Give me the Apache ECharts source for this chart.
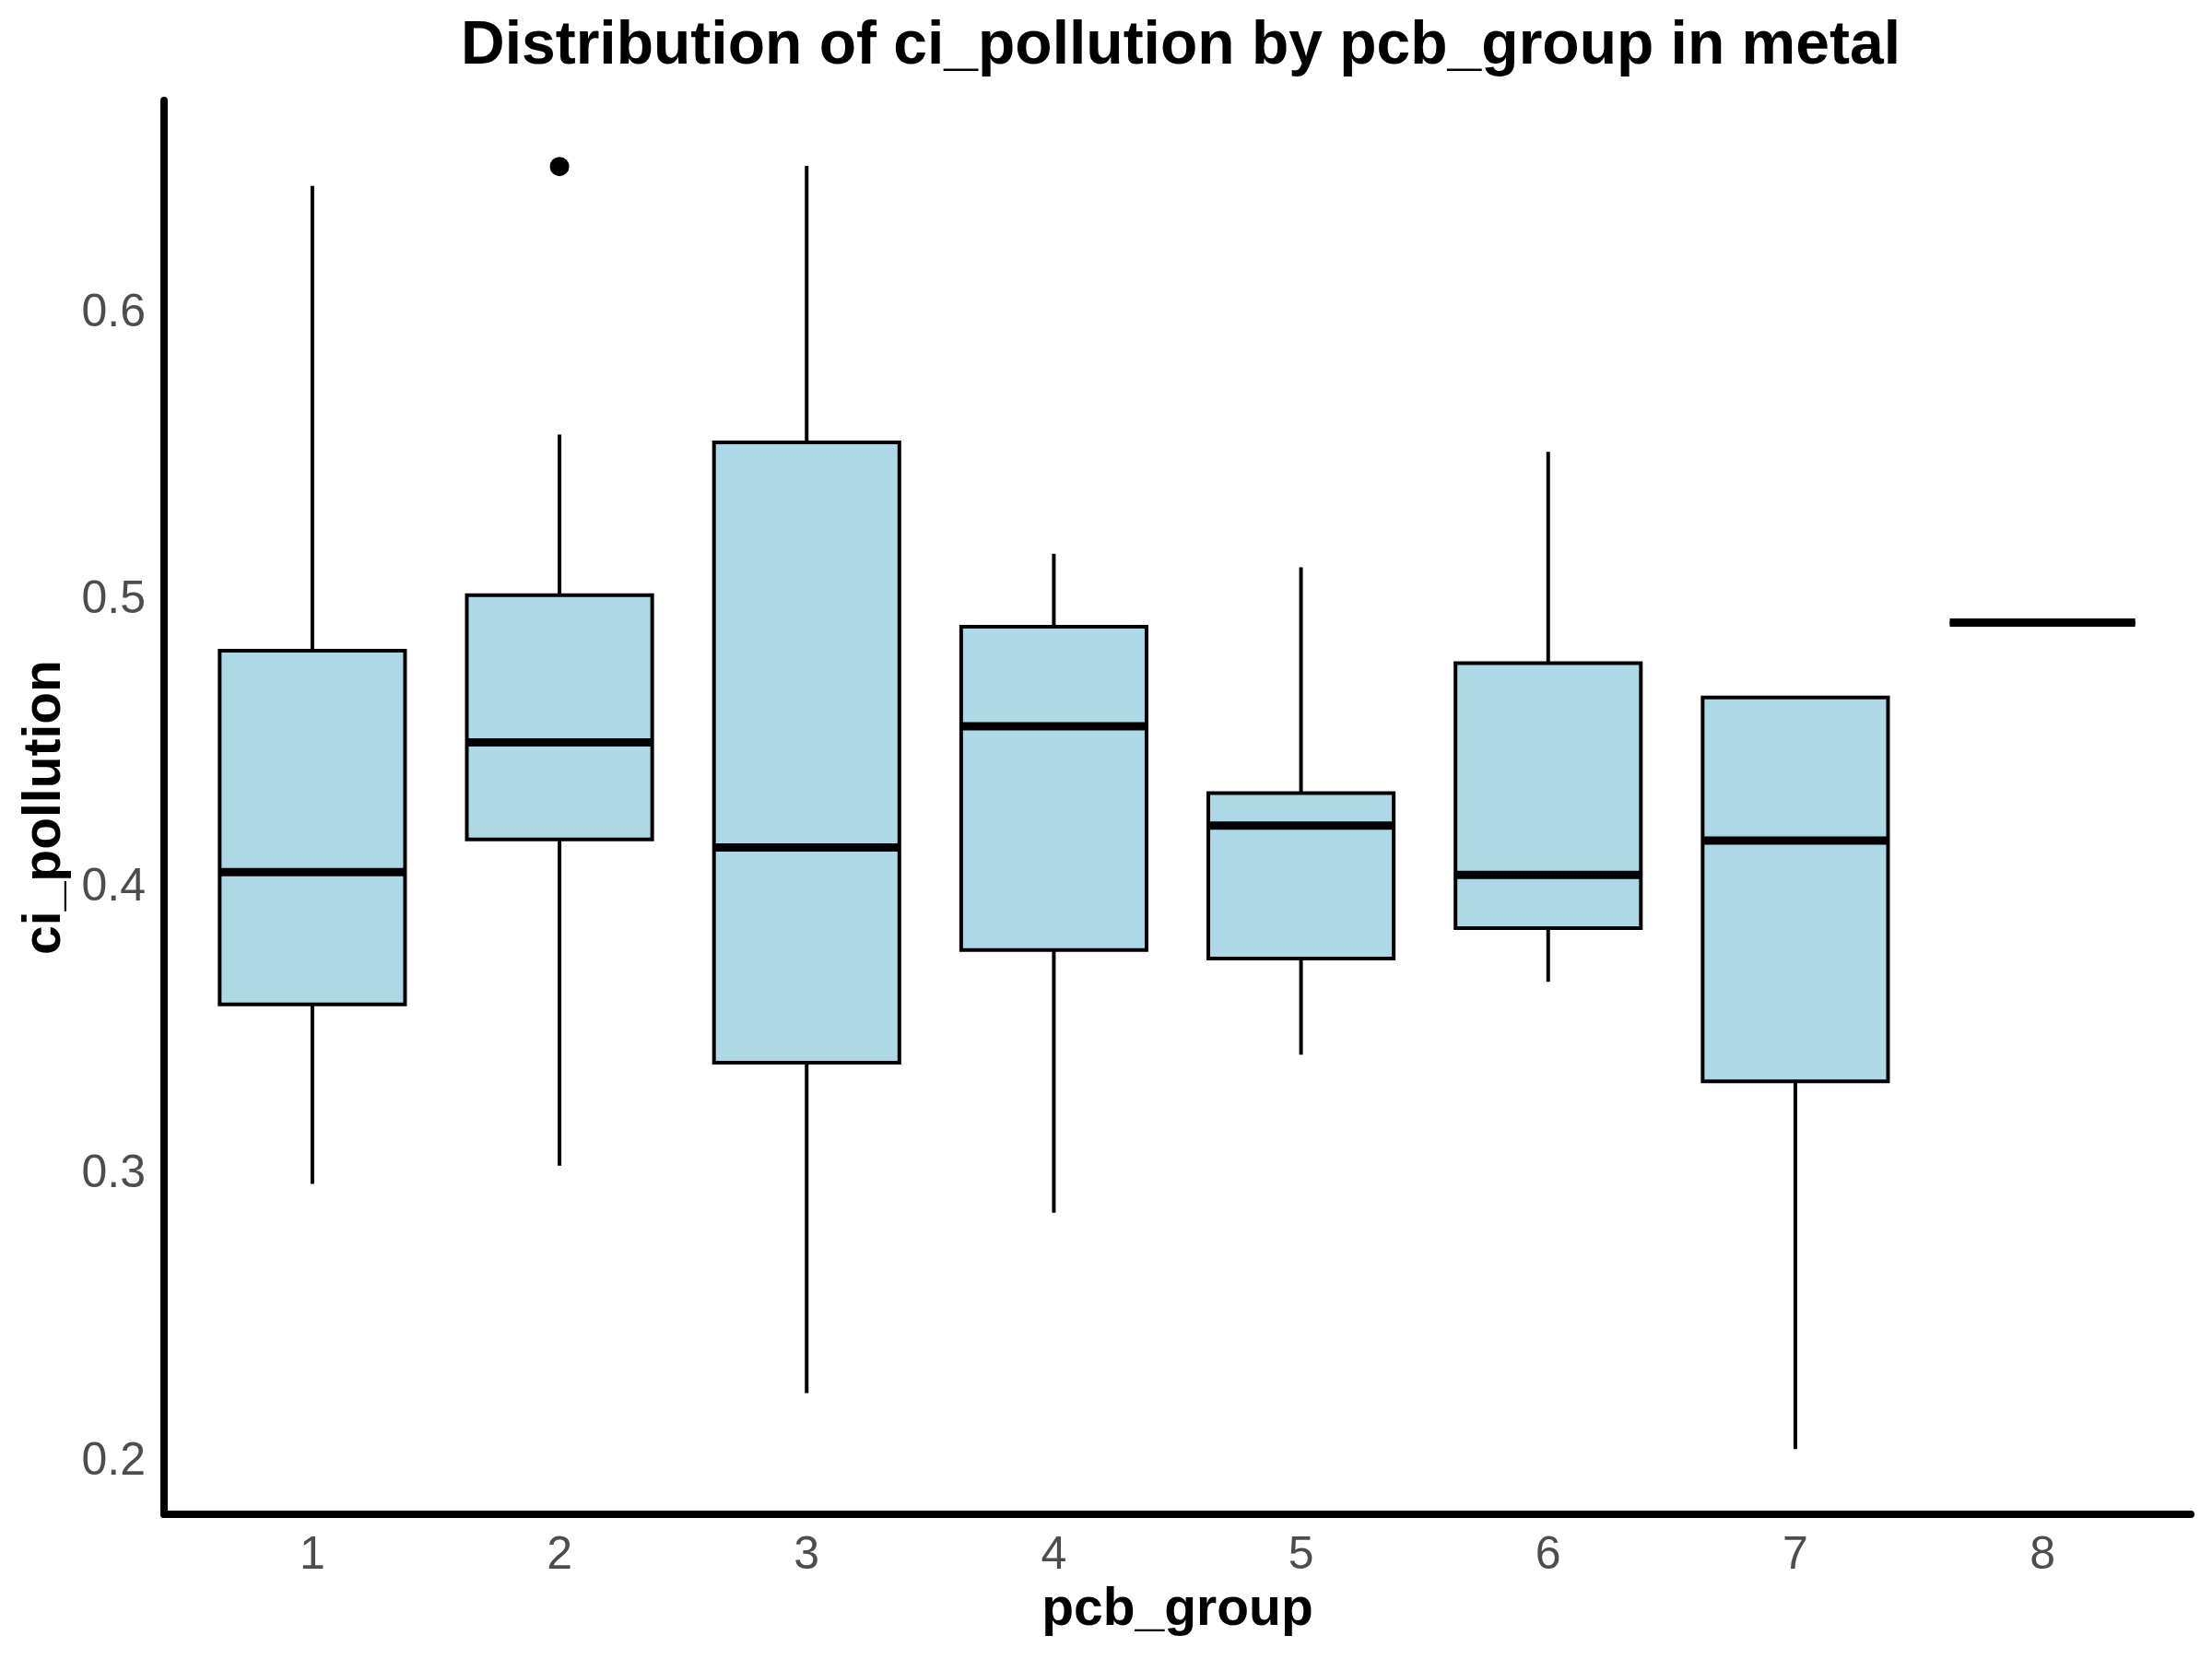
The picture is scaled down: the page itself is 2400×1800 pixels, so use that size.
<!DOCTYPE html>
<html lang="en">
<head>
  <meta charset="UTF-8" />
  <title>Distribution of ci_pollution by pcb_group in metal</title>
  <script src="https://cdn.jsdelivr.net/npm/echarts@6.0.0/dist/echarts.min.js"></script>
  <style>
    html, body { margin: 0; padding: 0; background: #fff; }
    #chart { width: 2400px; height: 1800px; }
  </style>
</head>
<body>
  <div id="chart"></div>
  <script>
    // box statistics per pcb_group
    const groups = [1, 2, 3, 4, 5, 6, 7, 8];
    const whiskerLow  = [0.2968, 0.3031, 0.2239, 0.2868, 0.3418, 0.3672, 0.2044, 0.4923];
    const q1          = [0.3593, 0.4168, 0.3390, 0.3783, 0.3753, 0.3859, 0.3325, 0.4923];
    const median      = [0.4054, 0.4506, 0.4140, 0.4562, 0.4216, 0.4044, 0.4164, 0.4923];
    const q3          = [0.4825, 0.5019, 0.5551, 0.4909, 0.4329, 0.4782, 0.4662, 0.4923];
    const whiskerHigh = [0.6444, 0.5578, 0.6514, 0.5163, 0.5116, 0.5518, 0.4662, 0.4923];

    // outliers
    const outlierGroup = [2];
    const outlierValue = [0.6512];

    const yTicks = [0.2, 0.3, 0.4, 0.5, 0.6];

    const boxData = groups.map((g, i) => [g, whiskerLow[i], q1[i], median[i], q3[i], whiskerHigh[i]]);
    const outlierData = outlierGroup.map((g, i) => [g, outlierValue[i]]);

    const FONT = 'Liberation Sans, Arial, Helvetica, sans-serif';
    const BOX_WIDTH = 0.75;

    function renderBox(params, api) {
      const x = api.value(0);
      const half = api.size([BOX_WIDTH, 0])[0] / 2;
      const pLow = api.coord([x, api.value(1)]);
      const pQ1 = api.coord([x, api.value(2)]);
      const pMed = api.coord([x, api.value(3)]);
      const pQ3 = api.coord([x, api.value(4)]);
      const pHigh = api.coord([x, api.value(5)]);
      const cx = pMed[0];
      const lineStyle = { stroke: '#000', lineWidth: 4 };
      return {
        type: 'group',
        children: [
          { type: 'line', shape: { x1: cx, y1: pLow[1], x2: cx, y2: pQ1[1] }, style: lineStyle },
          { type: 'line', shape: { x1: cx, y1: pQ3[1], x2: cx, y2: pHigh[1] }, style: lineStyle },
          {
            type: 'rect',
            shape: { x: cx - half, y: pQ3[1], width: half * 2, height: pQ1[1] - pQ3[1] },
            style: { fill: '#ADD8E6', stroke: '#000', lineWidth: 4 }
          },
          { type: 'line', shape: { x1: cx - half, y1: pMed[1], x2: cx + half, y2: pMed[1] }, style: { stroke: '#000', lineWidth: 9 } }
        ]
      };
    }

    const chart = echarts.init(document.getElementById('chart'));
    chart.setOption({
      backgroundColor: '#fff',
      animation: false,
      textStyle: { fontFamily: FONT },
      title: {
        text: 'Distribution of ci_pollution by pcb_group in metal',
        left: 1276,
        textAlign: 'center',
        top: 13,
        textStyle: { fontFamily: FONT, fontSize: 66, fontWeight: 'bold', color: '#000' }
      },
      grid: { left: 178, right: 23, top: 109, bottom: 157, containLabel: false },
      xAxis: {
        type: 'value',
        min: 0.4,
        max: 8.6,
        name: 'pcb_group',
        nameLocation: 'middle',
        nameGap: 76,
        nameTextStyle: { fontFamily: FONT, fontSize: 57, fontWeight: 'bold', color: '#000' },
        axisLine: { show: true, onZero: false, lineStyle: { color: '#000', width: 8 } },
        axisTick: { show: false },
        splitLine: { show: false },
        axisLabel: {
          customValues: groups,
          margin: 20,
          fontFamily: FONT,
          fontSize: 50,
          color: '#4d4d4d',
          formatter: v => String(v)
        }
      },
      yAxis: {
        type: 'value',
        min: 0.1817,
        max: 0.6742,
        name: 'ci_pollution',
        nameLocation: 'middle',
        nameGap: 100,
        nameRotate: 90,
        nameTextStyle: { fontFamily: FONT, fontSize: 57, fontWeight: 'bold', color: '#000' },
        axisLine: { show: true, onZero: false, lineStyle: { color: '#000', width: 8 } },
        axisTick: { show: false },
        splitLine: { show: false },
        axisLabel: {
          customValues: yTicks,
          margin: 20,
          fontFamily: FONT,
          fontSize: 50,
          color: '#4d4d4d',
          formatter: v => v.toFixed(1)
        }
      },
      series: [
        {
          type: 'custom',
          name: 'box',
          renderItem: renderBox,
          encode: { x: 0, y: [1, 2, 3, 4, 5] },
          data: boxData,
          clip: false
        },
        {
          type: 'scatter',
          name: 'outlier',
          data: outlierData,
          symbol: 'circle',
          symbolSize: 21,
          itemStyle: { color: '#000', opacity: 1 }
        }
      ]
    });
  </script>
</body>
</html>
